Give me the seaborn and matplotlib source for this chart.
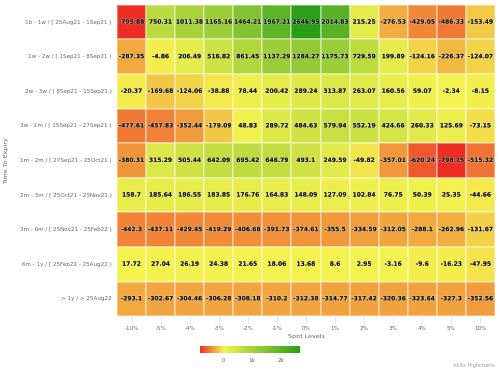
import numpy as np
import pandas as pd
import matplotlib
matplotlib.use("Agg")
import matplotlib.pyplot as plt
import matplotlib.patheffects as pe
from matplotlib.colors import LinearSegmentedColormap
import seaborn as sns

# spot levels (x) and expiry buckets (y)
spot_levels = ["-10%", "-5%", "-4%", "-3%", "-2%", "-1%", "0%", "1%", "2%", "3%", "4%", "5%", "10%"]
expiry = ["1b - 1w / [ 25Aug21 - 1Sep21 )",
          "1w - 2w / [ 1Sep21 - 8Sep21 )",
          "2w - 3w / [ 8Sep21 - 15Sep21 )",
          "3w - 1m / [ 15Sep21 - 27Sep21 )",
          "1m - 2m / [ 27Sep21 - 25Oct21 )",
          "2m - 3m / [ 25Oct21 - 25Nov21 )",
          "3m - 6m / [ 25Nov21 - 25Feb22 )",
          "6m - 1y / [ 25Feb22 - 25Aug22 )",
          "> 1y / > 25Aug22"]

row_1b_1w = [-795.88, 750.31, 1011.38, 1165.16, 1464.21, 1967.21, 2646.95, 2014.83, 215.25, -276.53, -429.05, -486.33, -153.49]
row_1w_2w = [-287.35, -4.86, 206.49, 516.82, 861.45, 1137.29, 1284.27, 1175.73, 729.59, 199.89, -124.16, -226.37, -124.07]
row_2w_3w = [-20.37, -169.68, -124.06, -38.88, 78.44, 200.42, 289.24, 313.87, 263.07, 160.56, 59.07, -2.34, -8.15]
row_3w_1m = [-477.61, -457.83, -352.44, -179.09, 48.83, 289.72, 484.63, 579.94, 552.19, 424.66, 260.33, 125.69, -73.15]
row_1m_2m = [-380.31, 315.29, 505.44, 642.09, 695.42, 646.79, 493.1, 249.59, -49.82, -357.01, -620.24, -798.75, -515.32]
row_2m_3m = [158.7, 185.64, 186.55, 183.85, 176.76, 164.83, 148.09, 127.09, 102.84, 76.75, 50.39, 25.35, -44.66]
row_3m_6m = [-442.3, -437.11, -429.45, -419.29, -406.68, -391.73, -374.61, -355.5, -334.59, -312.05, -288.1, -262.96, -131.67]
row_6m_1y = [17.72, 27.04, 26.19, 24.38, 21.65, 18.06, 13.68, 8.6, 2.95, -3.16, -9.6, -16.23, -47.95]
row_1y = [-293.1, -302.67, -304.46, -306.28, -308.18, -310.2, -312.38, -314.77, -317.42, -320.36, -323.64, -327.3, -352.56]

df = pd.DataFrame([row_1b_1w, row_1w_2w, row_2w_3w, row_3w_1m, row_1m_2m,
                   row_2m_3m, row_3m_6m, row_6m_1y, row_1y],
                  index=expiry, columns=spot_levels)

vmin = df.values.min()
vmax = df.values.max()
zero_pos = (0 - vmin) / (vmax - vmin)
cmap = LinearSegmentedColormap.from_list(
    "ryg", [(0, "#ee2e24"), (zero_pos, "#f4f24e"), (1, "#2a9e18")])

fig = plt.figure(figsize=(5, 3.75), dpi=100)
ax = fig.add_axes([0.234, 0.157, 0.756, 0.83])
cax = fig.add_axes([0.4, 0.059, 0.2, 0.019])

sns.heatmap(df, ax=ax, cmap=cmap, vmin=vmin, vmax=vmax,
            linewidths=0.2, linecolor=(1, 1, 1, 0.35),
            cbar_ax=cax, cbar_kws={"orientation": "horizontal", "ticks": [0, 1000, 2000]})

# cell labels with a light outline like highcharts
for i in range(df.shape[0]):
    for j in range(df.shape[1]):
        v = df.iloc[i, j]
        ax.text(j + 0.5, i + 0.5, f"{v:g}", ha="center", va="center",
                fontsize=4.3, fontweight="bold", color="#111111",
                path_effects=[pe.withStroke(linewidth=0.8, foreground=(1, 1, 1, 0.4))])

ax.tick_params(axis="y", length=0, labelsize=4.1, labelcolor="#666666", pad=4)
ax.tick_params(axis="x", length=6, width=0.5, color="#dddddd", labelsize=4.1,
               labelcolor="#666666", pad=1)
ax.set_xticks(np.arange(len(spot_levels)) + 0.5)
ax.set_xticklabels(spot_levels, rotation=0)
ax.set_yticklabels(expiry, rotation=0)
ax.set_xlabel("Spot Levels", fontsize=4.6, color="#666666", labelpad=2)
ax.set_ylabel("Time To Expiry", fontsize=4.6, color="#666666")
ax.yaxis.set_label_coords(-0.285, 0.5)

cax.set_xticklabels(["0", "1k", "2k"])
cax.tick_params(length=0, labelsize=4.1, labelcolor="#666666", pad=4)
for s in cax.spines.values():
    s.set_visible(False)

fig.text(0.99, 0.018, "Akita Highcharts", ha="right", va="bottom", fontsize=3.6, color="#999999")

fig.savefig("out.png", dpi=100)
